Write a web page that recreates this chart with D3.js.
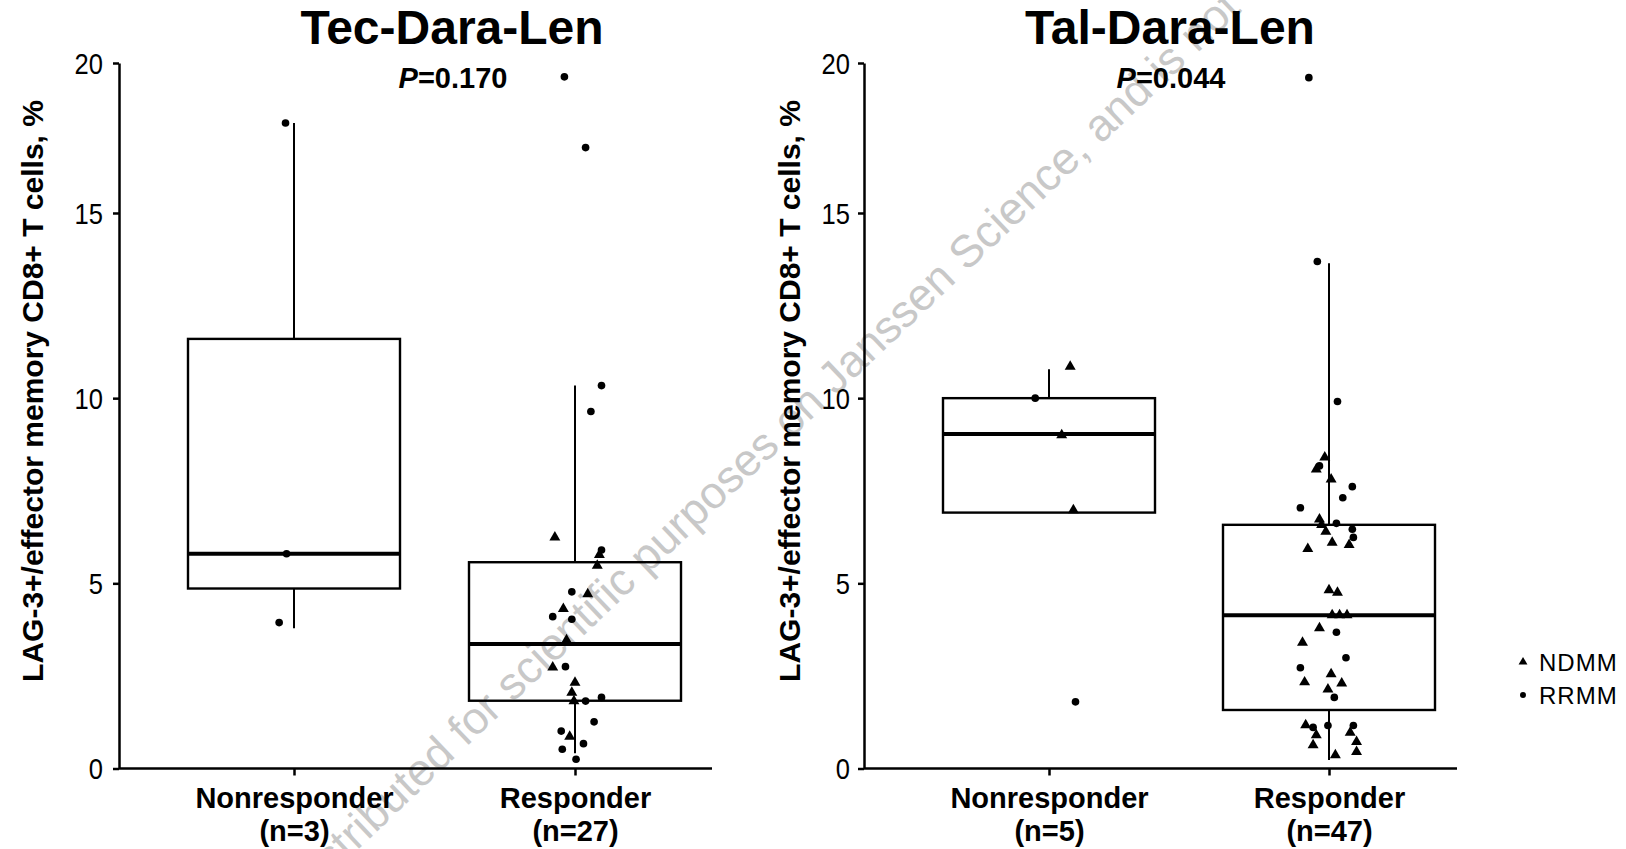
<!DOCTYPE html>
<html>
<head>
<meta charset="utf-8">
<script src="https://cdn.jsdelivr.net/npm/d3@7"></script>
<style>
  body { margin: 0; background: #fff; }
  svg { display: block; }
</style>
</head>
<body>
<script>
// ---- data ----
const categories = ["Nonresponder", "Responder"];
const yTicks = [0, 5, 10, 15, 20];
const panelTitles = ["Tec-Dara-Len", "Tal-Dara-Len"];
const pValues = ["0.170", "0.044"];
const groupSizes = [[3, 27], [5, 47]];
const yLabel = "LAG-3+/effector memory CD8+ T cells, %";
const legendItems = ["NDMM", "RRMM"];

// box summaries [Nonresponder, Responder]
const tecBoxes = [
  { lo: 3.79, q1: 4.86, med: 5.80, q3: 11.60, hi: 18.00 },
  { lo: 0.41, q1: 1.83, med: 3.36, q3: 5.57, hi: 10.34 }
];
const talBoxes = [
  { lo: null, q1: 6.91, med: 9.03, q3: 10.00, hi: 10.78 },
  { lo: 0.23, q1: 1.58, med: 4.14, q3: 6.58, hi: 13.64 }
];

// points: [value, group, jitter (fraction of half box width)]
const tecNonresponder = [
  [18.00, "RRMM", -0.08], [5.80, "RRMM", -0.07], [3.94, "RRMM", -0.14]
];
const tecResponder = [
  [19.54, "RRMM", -0.10], [17.18, "RRMM", 0.10], [10.34, "RRMM", 0.25], [9.64, "RRMM", 0.15],
  [6.24, "NDMM", -0.19], [5.90, "RRMM", 0.25], [5.77, "NDMM", 0.23], [5.48, "NDMM", 0.21],
  [4.77, "RRMM", -0.03], [4.71, "NDMM", 0.12], [4.31, "NDMM", -0.11], [4.10, "RRMM", -0.21],
  [4.03, "RRMM", -0.03], [3.47, "NDMM", -0.08], [2.73, "NDMM", -0.21], [2.75, "RRMM", -0.09],
  [2.32, "NDMM", 0.00], [2.05, "NDMM", -0.03], [1.82, "NDMM", -0.01], [1.82, "RRMM", 0.10],
  [1.92, "RRMM", 0.25], [1.26, "RRMM", 0.18], [1.01, "RRMM", -0.13], [0.86, "NDMM", -0.05],
  [0.67, "RRMM", 0.08], [0.52, "RRMM", -0.12], [0.25, "RRMM", 0.01]
];
const talNonresponder = [
  [10.85, "NDMM", 0.20], [10.00, "RRMM", -0.13], [9.00, "NDMM", 0.12],
  [6.98, "NDMM", 0.23], [1.80, "RRMM", 0.25]
];
const talResponder = [
  [19.51, "RRMM", -0.19], [13.69, "RRMM", -0.11], [9.91, "RRMM", 0.08], [8.40, "NDMM", -0.04],
  [8.08, "NDMM", -0.12], [8.17, "RRMM", -0.09], [7.81, "NDMM", 0.02], [7.61, "RRMM", 0.22],
  [7.31, "RRMM", 0.13], [7.04, "RRMM", -0.27], [6.73, "NDMM", -0.09], [6.62, "RRMM", 0.07],
  [6.58, "NDMM", -0.07], [6.40, "NDMM", -0.03], [6.46, "RRMM", 0.22], [6.24, "RRMM", 0.23],
  [6.10, "NDMM", 0.03], [6.04, "NDMM", 0.19], [5.93, "NDMM", -0.20], [4.82, "NDMM", 0.00],
  [4.75, "NDMM", 0.08], [4.14, "NDMM", 0.03], [4.14, "NDMM", 0.10], [4.14, "NDMM", 0.17],
  [3.79, "NDMM", -0.09], [3.68, "RRMM", 0.07], [3.40, "NDMM", -0.25], [2.99, "RRMM", 0.16],
  [2.72, "RRMM", -0.27], [2.55, "NDMM", 0.02], [2.33, "NDMM", -0.23], [2.30, "NDMM", 0.12],
  [2.14, "NDMM", -0.01], [1.92, "RRMM", 0.05], [1.17, "NDMM", -0.22], [1.11, "RRMM", -0.15],
  [1.16, "RRMM", -0.01], [1.16, "RRMM", 0.23], [0.90, "NDMM", -0.12], [0.97, "NDMM", 0.20],
  [0.72, "NDMM", 0.26], [0.63, "NDMM", -0.15], [0.45, "NDMM", 0.26], [0.36, "NDMM", 0.06]
];

// ---- layout ----
const W = 1626, H = 849;
const yTop = 63, yBottom = 768.5;
const halfBox = 106;
const font = "Arial, 'Liberation Sans', Helvetica, sans-serif";

const panels = [
  { title: panelTitles[0], p: pValues[0], n: groupSizes[0], boxes: tecBoxes,
    points: [tecNonresponder, tecResponder],
    axisX: 119, axisEnd: 712, padL: 175, padR: 456, titleX: 452, labelX: 43, tickGap: 16 },
  { title: panelTitles[1], p: pValues[1], n: groupSizes[1], boxes: talBoxes,
    points: [talNonresponder, talResponder],
    axisX: 864, axisEnd: 1457, padL: 185, padR: 465, titleX: 1170, labelX: 800, tickGap: 14 }
];

const svg = d3.select("body").append("svg")
  .attr("width", W).attr("height", H)
  .style("font-family", font);

// watermark behind the chart
svg.append("text")
  .attr("transform", "translate(306,899) rotate(-43.5)")
  .attr("font-size", 45)
  .attr("fill", "#c8c8c8")
  .text("distributed for scientific purposes on Janssen Science, and is not");

// y axis is compressed above 15
const y = d3.scaleLinear()
  .domain([0, 15, 20])
  .range([yBottom, yBottom - 0.7874 * (yBottom - yTop), yTop]);

const symbolFor = t => t === "NDMM" ? d3.symbolTriangle : d3.symbolCircle;

panels.forEach(p => {
  const g = svg.append("g");
  const x = d3.scalePoint().domain(categories)
    .range([p.axisX + p.padL, p.axisX + p.padR]);

  // y axis
  const ya = g.append("g")
    .attr("transform", `translate(${p.axisX},0)`)
    .call(d3.axisLeft(y).tickValues(yTicks).tickSize(6).tickSizeOuter(0));
  ya.select(".domain").attr("stroke-width", 2.5);
  ya.selectAll(".tick line").attr("stroke-width", 2.5);
  ya.selectAll(".tick text")
    .attr("font-size", 29)
    .attr("font-family", font)
    .attr("transform", "scale(0.88,1)")
    .attr("x", -p.tickGap / 0.88)
    .attr("dy", "0.36em");

  // x axis
  g.append("line")
    .attr("x1", p.axisX).attr("x2", p.axisEnd)
    .attr("y1", yBottom).attr("y2", yBottom)
    .attr("stroke", "#000").attr("stroke-width", 2.5);
  const xa = g.append("g")
    .attr("transform", `translate(0,${yBottom})`)
    .call(d3.axisBottom(x).tickSize(7).tickSizeOuter(0));
  xa.select(".domain").remove();
  xa.selectAll(".tick line").attr("stroke-width", 2.5);
  xa.selectAll(".tick text").remove();
  xa.selectAll(".tick").each(function(d, i) {
    const t = d3.select(this).append("text")
      .attr("fill", "#000")
      .attr("text-anchor", "middle")
      .attr("font-family", font)
      .attr("font-size", 29)
      .attr("font-weight", "bold");
    t.append("tspan").attr("x", 0).attr("y", 39).text(d);
    t.append("tspan").attr("x", 0).attr("y", 72).text(`(n=${p.n[i]})`);
  });

  // y label
  g.append("text")
    .attr("transform", `translate(${p.labelX},391) rotate(-90)`)
    .attr("text-anchor", "middle")
    .attr("font-size", 30)
    .attr("font-weight", "bold")
    .text(yLabel);

  // title and P value
  g.append("text")
    .attr("x", p.titleX).attr("y", 44)
    .attr("text-anchor", "middle")
    .attr("font-size", 48)
    .attr("font-weight", "bold")
    .text(p.title);
  const pt = g.append("text")
    .attr("x", p.titleX + 1).attr("y", 88)
    .attr("text-anchor", "middle")
    .attr("font-size", 29)
    .attr("font-weight", "bold");
  pt.append("tspan").attr("font-style", "italic").text("P");
  pt.append("tspan").text("=" + p.p);

  // boxes
  categories.forEach((c, i) => {
    const b = p.boxes[i];
    const cx = x(c);
    const bg = g.append("g").attr("stroke", "#000").attr("fill", "none");
    bg.append("line")
      .attr("x1", cx).attr("x2", cx)
      .attr("y1", y(b.q3)).attr("y2", y(b.hi))
      .attr("stroke-width", 2);
    if (b.lo !== null) {
      bg.append("line")
        .attr("x1", cx).attr("x2", cx)
        .attr("y1", y(b.q1)).attr("y2", y(b.lo))
        .attr("stroke-width", 2);
    }
    bg.append("rect")
      .attr("x", cx - halfBox).attr("width", 2 * halfBox)
      .attr("y", y(b.q3)).attr("height", y(b.q1) - y(b.q3))
      .attr("stroke-width", 2.4);
    bg.append("line")
      .attr("x1", cx - halfBox).attr("x2", cx + halfBox)
      .attr("y1", y(b.med)).attr("y2", y(b.med))
      .attr("stroke-width", 4);

    g.append("g").selectAll("path")
      .data(p.points[i])
      .join("path")
      .attr("d", d => d3.symbol().type(symbolFor(d[1])).size(d[1] === "NDMM" ? 52 : 46)())
      .attr("transform", d => `translate(${cx + d[2] * halfBox},${y(d[0])})`)
      .attr("fill", "#000");
  });
});

// legend
const lg = svg.append("g").attr("transform", "translate(1523,662)");
legendItems.forEach((name, i) => {
  lg.append("path")
    .attr("d", d3.symbol().type(symbolFor(name)).size(name === "NDMM" ? 34 : 28)())
    .attr("transform", `translate(0,${i * 33})`)
    .attr("fill", "#000");
  lg.append("text")
    .attr("x", 16).attr("y", i * 33 + 9)
    .attr("font-size", 24)
    .attr("letter-spacing", 1)
    .text(name);
});
</script>
</body>
</html>
